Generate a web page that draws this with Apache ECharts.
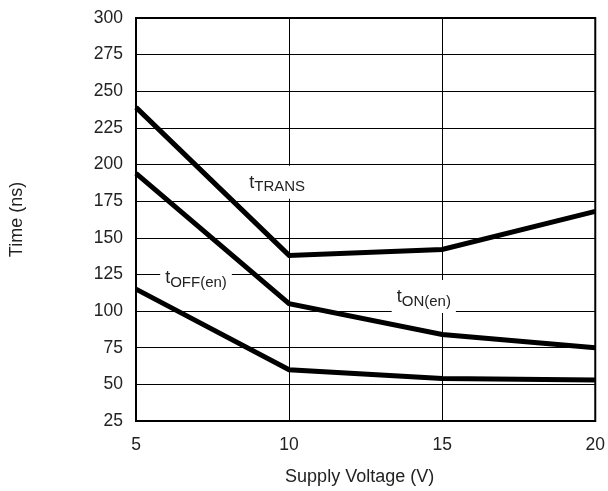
<!DOCTYPE html>
<html><head><meta charset="utf-8">
<script src="https://cdn.jsdelivr.net/npm/echarts@6/dist/echarts.min.js"></script>
<style>html,body{margin:0;padding:0;background:#fff}#c{width:608px;height:491px}</style>
</head><body><div id="c"></div>
<script>
const voltages = [5, 10, 15, 20];
const tTrans = [239, 138, 142, 168];
const tOnEn = [194, 105, 84, 75];
const tOffEn = [115, 60, 54, 53];
const xTicks = [5, 10, 15, 20];
const yTicks = [25, 50, 75, 100, 125, 150, 175, 200, 225, 250, 275, 300];
const labels = [
  {name: 'TRANS', coord: [9.61, 188]},
  {name: 'OFF(en)', coord: [6.96, 123]},
  {name: 'ON(en)', coord: [14.4, 110]}
];
const FONT = 'Liberation Sans, Arial, sans-serif';
const TXT = '#222';
const chart = echarts.init(document.getElementById('c'));
const pair = arr => voltages.map((v, i) => [v, arr[i]]);
const lineSeries = (name, arr, withLabels) => ({
  name, type: 'line', data: pair(arr), symbol: 'none',
  lineStyle: {color: '#000', width: 5, cap: 'butt', join: 'miter'},
  z: 5,
  markPoint: withLabels ? {
    symbol: 'circle', symbolSize: 0, silent: true,
    data: labels.map(l => ({
      coord: l.coord,
      label: {
        show: true, position: 'inside',
        formatter: '{t|t}{s|' + l.name + '}',
        backgroundColor: '#fff', padding: [5, 5, 4, 5],
        rich: {
          t: {fontSize: 18, fontFamily: FONT, color: TXT},
          s: {fontSize: 15, fontFamily: FONT, color: TXT, padding: [9, 0, 0, 0]}
        }
      }
    }))
  } : undefined
});
chart.setOption({
  animation: false,
  backgroundColor: '#fff',
  grid: {left: 135, right: 11, top: 18, bottom: 69, show: true, borderColor: '#000', borderWidth: 2, backgroundColor: 'transparent'},
  xAxis: {
    type: 'value', min: xTicks[0], max: xTicks[xTicks.length - 1], interval: 5,
    name: 'Supply Voltage (V)', nameLocation: 'middle', nameGap: 47,
    nameTextStyle: {fontSize: 18, fontFamily: FONT, color: TXT, padding: [0, 12, 0, 0]},
    axisLine: {show: false}, axisTick: {show: false},
    axisLabel: {fontSize: 17.5, fontFamily: FONT, color: TXT, margin: 15},
    splitLine: {show: true, lineStyle: {color: '#000', width: 1}}
  },
  yAxis: {
    type: 'value', min: yTicks[0], max: yTicks[yTicks.length - 1], interval: 25,
    name: 'Time (ns)', nameLocation: 'middle', nameGap: 110, nameRotate: 90,
    nameTextStyle: {fontSize: 18, fontFamily: FONT, color: TXT},
    axisLine: {show: false}, axisTick: {show: false},
    axisLabel: {fontSize: 17.5, fontFamily: FONT, color: TXT, margin: 13},
    splitLine: {show: true, lineStyle: {color: '#000', width: 1}}
  },
  series: [
    lineSeries('tTRANS', tTrans, true),
    lineSeries('tON(en)', tOnEn, false),
    lineSeries('tOFF(en)', tOffEn, false)
  ]
});
</script></body></html>
